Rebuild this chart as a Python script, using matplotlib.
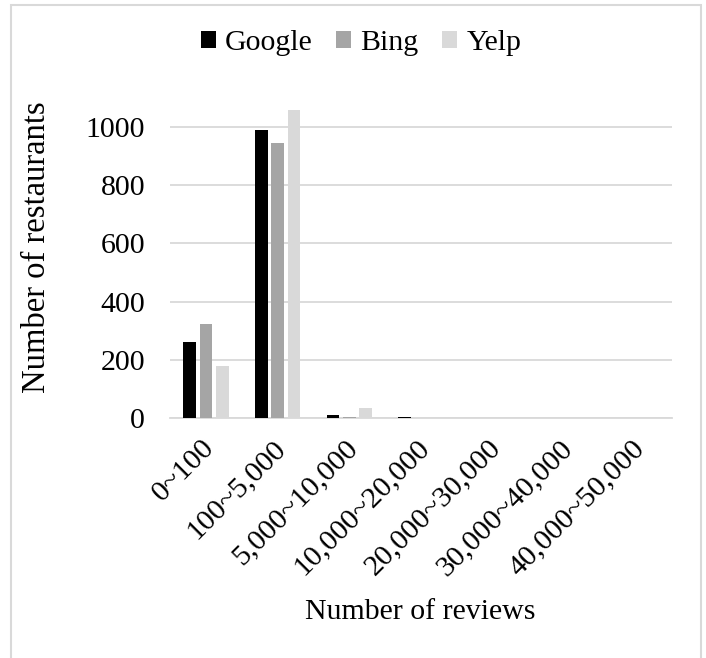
import matplotlib.pyplot as plt
import matplotlib.transforms as mtransforms
import numpy as np
from matplotlib.patches import Rectangle

categories = ["0~100", "100~5,000", "5,000~10,000", "10,000~20,000",
              "20,000~30,000", "30,000~40,000", "40,000~50,000"]
google = [262, 990, 12, 2, 0, 0, 0]
bing = [322, 946, 4, 0, 0, 0, 0]
yelp = [179, 1060, 33, 0, 0, 0, 0]

plt.rcParams["font.family"] = ["Liberation Serif", "DejaVu Serif"]
fs = 21.5

fig = plt.figure(figsize=(7.06, 6.58), dpi=100)
W, H = 706, 658
ax = fig.add_axes([170 / W, 1 - 418 / H, (672 - 170) / W, (418 - 98) / H])

x = np.arange(len(categories))
step = 0.2275
width = 0.177
ax.bar(x - step, google, width=width, color="black", label="Google", zorder=3)
ax.bar(x, bing, width=width, color="#a5a5a5", label="Bing", zorder=3)
ax.bar(x + step, yelp, width=width, color="#d9d9d9", label="Yelp", zorder=3)

ax.set_xlim(-0.5, len(categories) - 0.5)
ax.set_ylim(0, 1100)
ax.set_yticks(np.arange(0, 1001, 200))
ax.grid(True, axis="y", color="#d9d9d9", linewidth=1.3, zorder=0)
for s in ["top", "right", "left"]:
    ax.spines[s].set_visible(False)
ax.spines["bottom"].set_color("#d9d9d9")
ax.spines["bottom"].set_linewidth(1.3)
ax.tick_params(axis="both", length=0, labelsize=fs)
ax.tick_params(axis="y", pad=18)
ax.set_xticks(x)
ax.set_xticklabels(categories, rotation=45, ha="right", va="top",
                   rotation_mode="anchor")
shift = mtransforms.ScaledTranslation(-5 / 100, -12 / 100, fig.dpi_scale_trans)
for lbl in ax.get_xticklabels():
    lbl.set_fontsize(fs)
    lbl.set_transform(lbl.get_transform() + shift)

fig.text(37 / W, 1 - 247 / H, "Number of restaurants", fontsize=23.5,
         rotation=90, ha="center", va="center")
fig.text(420 / W, 1 - 612 / H, "Number of reviews", fontsize=fs,
         ha="center", va="center")

fig.legend(loc="center", bbox_to_anchor=(361 / W, 1 - 43 / H), ncol=3,
           frameon=False, fontsize=fs, handlelength=0.5, handleheight=0.5,
           handletextpad=0.3, columnspacing=0.8)

fig.patches.append(Rectangle((11 / W, -0.05), 690 / W, 1 - 5 / H + 0.05,
                             transform=fig.transFigure, fill=False,
                             edgecolor="#d9d9d9", linewidth=1.5))

fig.savefig("out.png", dpi=100)
